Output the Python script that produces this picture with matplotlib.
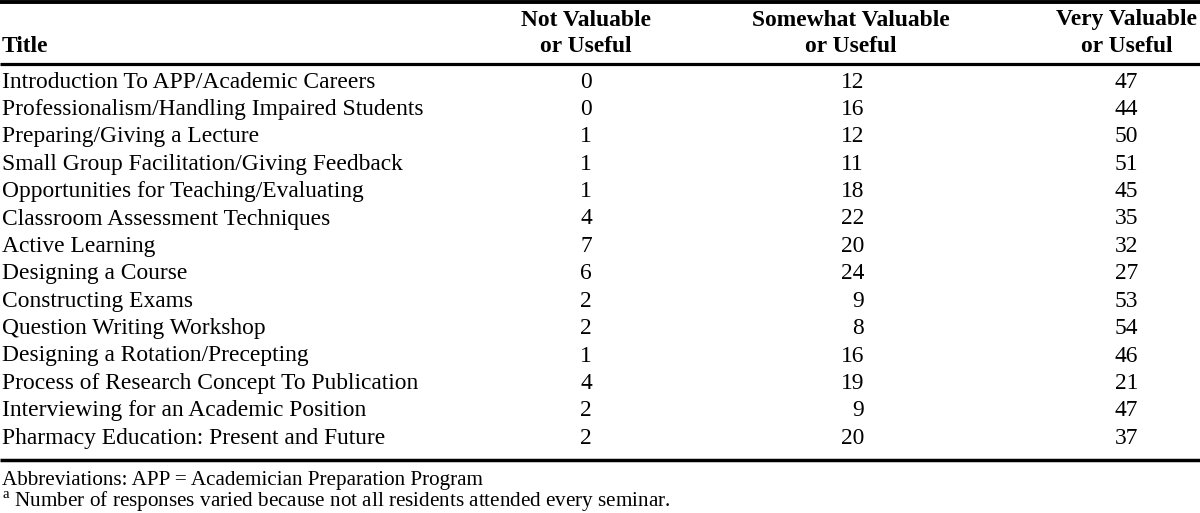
import matplotlib
matplotlib.use("Agg")
import matplotlib.pyplot as plt

titles = [
    "Introduction To APP/Academic Careers",
    "Professionalism/Handling Impaired Students",
    "Preparing/Giving a Lecture",
    "Small Group Facilitation/Giving Feedback",
    "Opportunities for Teaching/Evaluating",
    "Classroom Assessment Techniques",
    "Active Learning",
    "Designing a Course",
    "Constructing Exams",
    "Question Writing Workshop",
    "Designing a Rotation/Precepting",
    "Process of Research Concept To Publication",
    "Interviewing for an Academic Position",
    "Pharmacy Education: Present and Future",
]
not_valuable = [0, 0, 1, 1, 1, 4, 7, 6, 2, 2, 1, 4, 2, 2]
somewhat_valuable = [12, 16, 12, 11, 18, 22, 20, 24, 9, 8, 16, 19, 9, 20]
very_valuable = [47, 44, 50, 51, 45, 35, 32, 27, 53, 54, 46, 21, 47, 37]
headers = ["Title", "Not Valuable\nor Useful", "Somewhat Valuable\nor Useful", "Very Valuable\nor Useful"]
footnotes = [
    "Abbreviations: APP = Academician Preparation Program",
    "$^{\\mathrm{a}}$ Number of responses varied because not all residents attended every seminar.",
]

W, H = 1200, 513
plt.rcParams["mathtext.fontset"] = "custom"
plt.rcParams["mathtext.rm"] = "Liberation Serif"

fig = plt.figure(figsize=(W / 100, H / 100), dpi=100)
ax = fig.add_axes([0, 0, 1, 1])
ax.set_xlim(0, W)
ax.set_ylim(H, 0)
ax.axis("off")

font = "Liberation Serif"
fs = 16.9
fs_foot = 15.2

# rules
ax.plot([0, W], [2.0, 2.0], color="black", lw=2.8, solid_capstyle="butt")
ax.plot([0, W], [64.0, 64.0], color="black", lw=2.3, solid_capstyle="butt")
ax.plot([0, W], [460, 460], color="black", lw=2.5, solid_capstyle="butt")

# headers
ax.text(2, 47, headers[0], fontsize=fs, fontweight="bold", family=font, ha="left", va="center")
col_hdr_x = [586, 851, 1127]
for hx, h in zip(col_hdr_x, headers[1:]):
    l1, l2 = h.split("\n")
    ax.text(hx, 20, l1, fontsize=fs, fontweight="bold", family=font, ha="center", va="center")
    ax.text(hx, 47, l2, fontsize=fs, fontweight="bold", family=font, ha="center", va="center")

# rows
row_y0, row_dy = 82, 27.4
num_right = [592, 864, 1138]
for i, t in enumerate(titles):
    y = row_y0 + i * row_dy
    ax.text(2, y, t, fontsize=fs, family=font, ha="left", va="center")
    for xr, col in zip(num_right, [not_valuable, somewhat_valuable, very_valuable]):
        ax.text(xr, y, str(col[i]), fontsize=fs, family=font, ha="right", va="center")

ax.text(2, 480, footnotes[0], fontsize=fs_foot, family=font, ha="left", va="center")
ax.text(2, 502, footnotes[1], fontsize=fs_foot, family=font, ha="left", va="center")

fig.savefig("out.png", dpi=100)
